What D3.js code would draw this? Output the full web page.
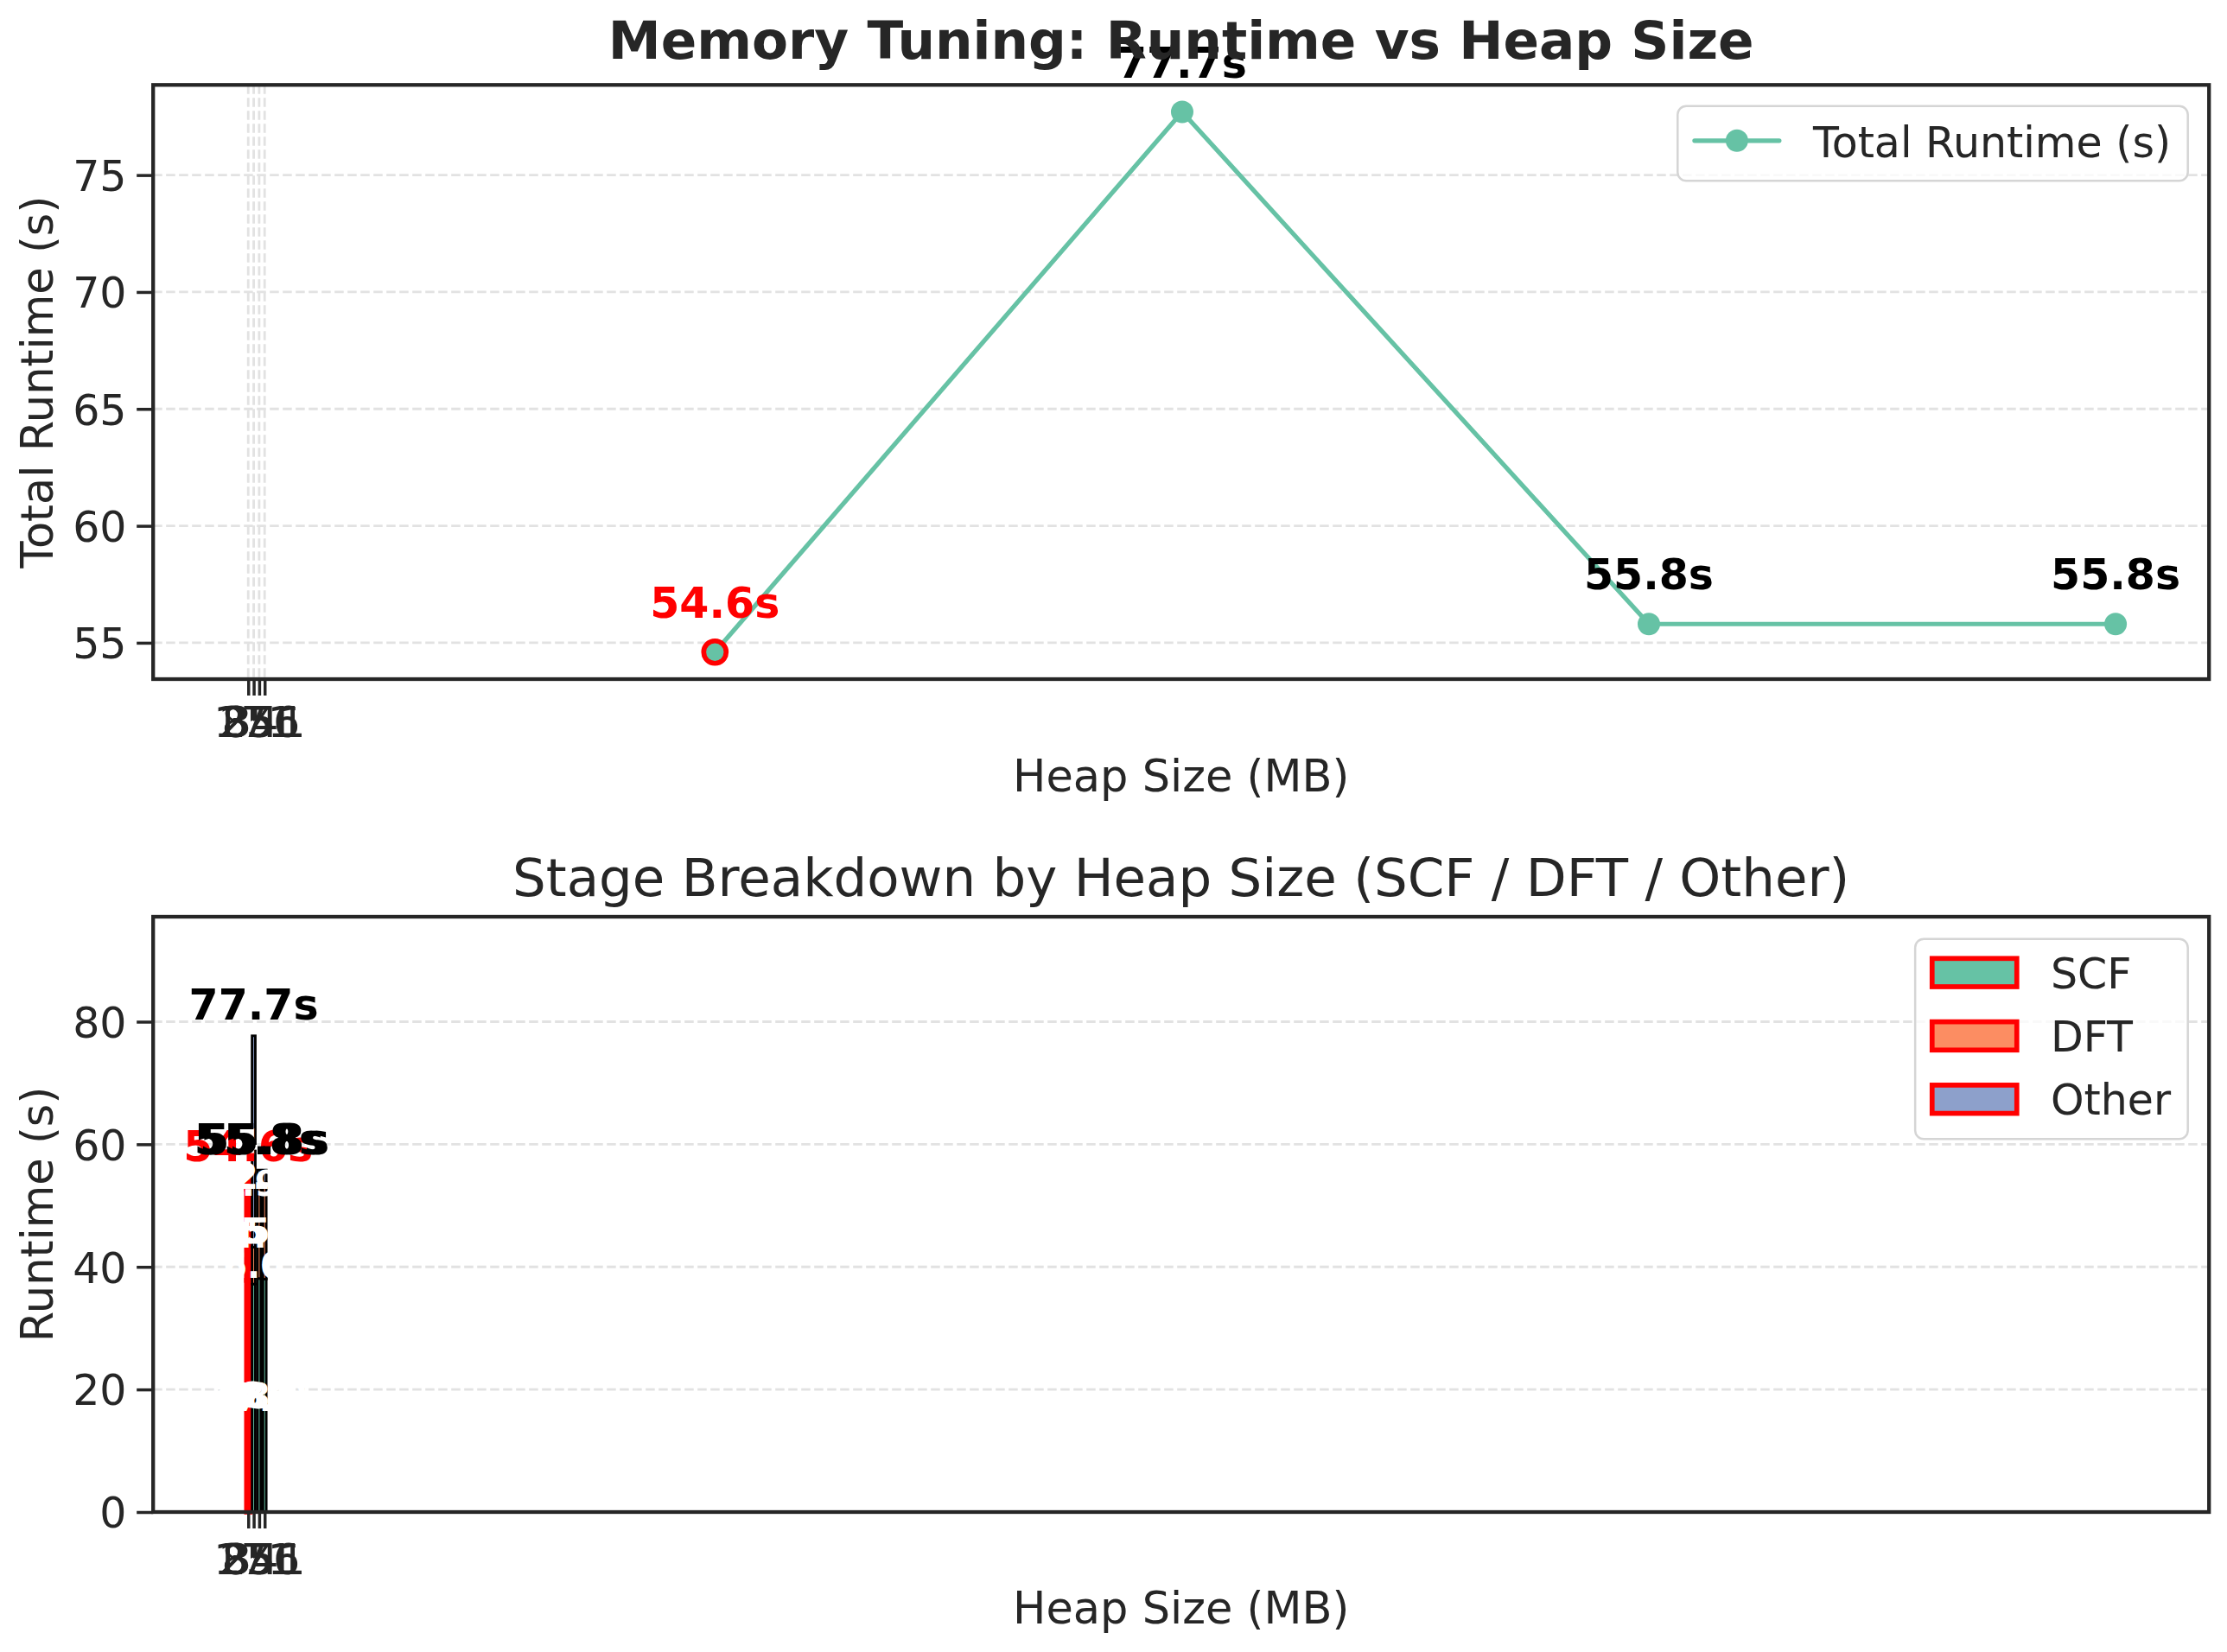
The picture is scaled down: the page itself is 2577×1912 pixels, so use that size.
<!DOCTYPE html>
<html><head><meta charset="utf-8">
<script src="https://cdn.jsdelivr.net/npm/d3@7"></script>
<style>
body{margin:0;background:#fff}
text{font-family:"DejaVu Sans",sans-serif}
</style>
</head><body>
<svg id="chart" width="2577" height="1912" xmlns="http://www.w3.org/2000/svg"></svg>
<script>
// ---------------- data ----------------
const heapLabels   = ["85", "171", "256", "341"];     // x tick labels (at bar slots)
const heapMB       = [85.3, 170.7, 256, 341.3];       // x of the runtime line
const barSlots     = [0, 1, 2, 3];                    // x of the stacked bars / ticks
const totalRuntime = [54.6, 77.7, 55.8, 55.8];
const scfTime      = [37.8, 37.2, 38.1, 38.0];
const dftTime      = [14.9, 6.0, 15.6, 15.7];
const otherTime    = [1.9, 34.5, 2.1, 2.1];
const stageNames   = ["SCF", "DFT", "Other"];
const topYTicks    = [55, 60, 65, 70, 75];
const botYTicks    = [0, 20, 40, 60, 80];

// ---------------- style ----------------
const C = {text:"#262626", grid:"#e2e2e2", line:"#66c2a5", stages:["#66c2a5","#fc8d62","#8da0cb"], best:"#ff0000"};
const F = {tick:49, label:51, title:61.2, subtitle:61, annot:49, seg:40, legend:49};
const L = 177.2, R = 2556.2;
const P1 = {top:98.3, bottom:786};
const P2 = {top:1061, bottom:1750};
const barW = 0.6;

const svg = d3.select("#chart");
const bestIdx = d3.minIndex(totalRuntime);

// shared x scale (matplotlib-like 5% margins over bars + line)
const xMin = d3.min(barSlots) - barW/2, xMax = d3.max(heapMB);
const xPad = 0.05*(xMax - xMin);
const x = d3.scaleLinear().domain([xMin - xPad, xMax + xPad]).range([L, R]);

// top y
const yMin = d3.min(totalRuntime), yMax = d3.max(totalRuntime), yPad = 0.05*(yMax-yMin);
const y1 = d3.scaleLinear().domain([yMin - yPad, yMax + yPad]).range([P1.bottom, P1.top]);
// bottom y
const y2 = d3.scaleLinear().domain([0, yMax*1.25]).range([P2.bottom, P2.top]);

function grid(g, yScale, yt, P, vertical){
  g.selectAll("line.hg").data(yt).join("line").attr("class","hg")
    .attr("x1",L).attr("x2",R).attr("y1",d=>yScale(d)).attr("y2",d=>yScale(d))
    .attr("stroke",C.grid).attr("stroke-width",2.8).attr("stroke-dasharray","10.5,4.5");
  if(vertical){
    g.selectAll("line.vg").data(barSlots).join("line").attr("class","vg")
      .attr("x1",d=>x(d)).attr("x2",d=>x(d)).attr("y1",P.top).attr("y2",P.bottom)
      .attr("stroke",C.grid).attr("stroke-width",2.8).attr("stroke-dasharray","10.5,4.5");
  }
}

function axes(g, yScale, yt, P, xLabelBase){
  const ya = d3.axisLeft(yScale).tickValues(yt).tickSize(19).tickPadding(11.7).tickFormat(d3.format("d"));
  const gy = g.append("g").attr("transform",`translate(${L},0)`).call(ya);
  gy.select(".domain").remove();
  gy.selectAll(".tick line").attr("stroke",C.text).attr("stroke-width",3.5);
  gy.selectAll(".tick text").attr("fill",C.text).attr("font-size",F.tick).attr("dy","0.364em")
    .attr("font-family","DejaVu Sans");
  const xa = d3.axisBottom(x).tickValues(barSlots).tickSize(19).tickPadding(xLabelBase - 19)
    .tickFormat((d,i)=>heapLabels[i]);
  const gx = g.append("g").attr("transform",`translate(0,${P.bottom})`).call(xa);
  gx.select(".domain").remove();
  gx.selectAll(".tick line").attr("stroke",C.text).attr("stroke-width",3.5);
  gx.selectAll(".tick text").attr("fill",C.text).attr("font-size",F.tick).attr("dy","0")
    .attr("font-family","DejaVu Sans");
  g.append("rect").attr("x",L).attr("y",P.top).attr("width",R-L).attr("height",P.bottom-P.top)
    .attr("fill","none").attr("stroke",C.text).attr("stroke-width",4.3);
}

// ================= TOP PANEL =================
const gTop = svg.append("g");
grid(gTop, y1, topYTicks, P1, true);

const pts = heapMB.map((h,i)=>({h, t:totalRuntime[i], i}));
gTop.append("path").datum(pts)
  .attr("d", d3.line().x(d=>x(d.h)).y(d=>y1(d.t)))
  .attr("fill","none").attr("stroke",C.line).attr("stroke-width",5.2).attr("stroke-linejoin","round");
gTop.selectAll("circle.pt").data(pts).join("circle").attr("class","pt")
  .attr("cx",d=>x(d.h)).attr("cy",d=>y1(d.t)).attr("r",13).attr("fill",C.line);
gTop.append("circle").datum(pts[bestIdx])
  .attr("cx",d=>x(d.h)).attr("cy",d=>y1(d.t)).attr("r",13)
  .attr("fill",C.line).attr("stroke",C.best).attr("stroke-width",5.7);
gTop.selectAll("text.ann").data(pts).join("text").attr("class","ann")
  .attr("x",d=>x(d.h)).attr("y",d=>y1(d.t)-40).attr("text-anchor","middle")
  .attr("font-size",F.annot).attr("font-weight","bold")
  .attr("fill",d=>d.i===bestIdx?C.best:"#000").text(d=>d.t.toFixed(1)+"s");

axes(gTop, y1, topYTicks, P1, 67.3);

gTop.append("text").attr("transform",`translate(61,${(P1.top+P1.bottom)/2}) rotate(-90)`)
  .attr("text-anchor","middle").attr("font-size",F.label).attr("fill",C.text).text("Total Runtime (s)");
gTop.append("text").attr("x",(L+R)/2).attr("y",915.5).attr("text-anchor","middle")
  .attr("font-size",F.label).attr("fill",C.text).text("Heap Size (MB)");

// top legend
(function(){
  const g = gTop.append("g");
  const pad = 0.4*F.legend, hl = 2*F.legend, tp = 0.8*F.legend;
  const t = g.append("text").attr("font-size",F.legend).attr("fill",C.text).text("Total Runtime (s)");
  const tw = t.node().getComputedTextLength();
  const w = pad*2 + hl + tp + tw, h = 86.5;
  const bx = R - 24.5 - w, by = P1.top + 24.5;
  g.insert("rect","text").attr("x",bx).attr("y",by).attr("width",w).attr("height",h).attr("rx",10)
    .attr("fill","#fff").attr("fill-opacity",0.8).attr("stroke","#d5d5d5").attr("stroke-width",2.5);
  const cy = by + 40;
  g.append("line").attr("x1",bx+pad).attr("x2",bx+pad+hl).attr("y1",cy).attr("y2",cy)
    .attr("stroke",C.line).attr("stroke-width",5.2).attr("stroke-linecap","round");
  g.append("circle").attr("cx",bx+pad+hl/2).attr("cy",cy).attr("r",13).attr("fill",C.line);
  t.attr("x",bx+pad+hl+tp).attr("y",by+59);
})();

gTop.append("text").attr("x",(L+R)/2).attr("y",68.3).attr("text-anchor","middle")
  .attr("font-size",F.title).attr("font-weight","bold").attr("fill",C.text)
  .text("Memory Tuning: Runtime vs Heap Size");

// ================= BOTTOM PANEL =================
const gBot = svg.append("g");
grid(gBot, y2, botYTicks, P2, false);

const stageVals = [scfTime, dftTime, otherTime];
const segs = [];
stageVals.forEach((vals, s)=>{
  vals.forEach((v,i)=>{
    const base = d3.sum(stageVals.slice(0,s), a=>a[i]);
    segs.push({s, i, base, v});
  });
});
gBot.selectAll("rect.seg").data(segs).join("rect").attr("class","seg")
  .attr("x",d=>x(barSlots[d.i]-barW/2)).attr("width",d=>x(barSlots[d.i]+barW/2)-x(barSlots[d.i]-barW/2))
  .attr("y",d=>y2(d.base+d.v)).attr("height",d=>y2(d.base)-y2(d.base+d.v))
  .attr("fill",d=>C.stages[d.s])
  .attr("stroke",d=>d.i===bestIdx?C.best:"#000")
  .attr("stroke-width",d=>d.i===bestIdx?5.7:2.85);
gBot.selectAll("text.seglab").data(segs).join("text").attr("class","seglab")
  .attr("x",d=>x(barSlots[d.i])).attr("y",d=>y2(d.base+d.v/2)).attr("dy","0.364em")
  .attr("text-anchor","middle").attr("font-size",F.seg).attr("font-weight","bold").attr("fill","#fff")
  .text(d=>d.v.toFixed(1));
gBot.selectAll("text.tot").data(totalRuntime).join("text").attr("class","tot")
  .attr("x",(d,i)=>x(barSlots[i])).attr("y",d=>y2(d)-18.5).attr("text-anchor","middle")
  .attr("font-size",F.annot).attr("font-weight","bold")
  .attr("fill",(d,i)=>i===bestIdx?C.best:"#000").text(d=>d.toFixed(1)+"s");

axes(gBot, y2, botYTicks, P2, 72.3);

gBot.append("text").attr("transform",`translate(61,${(P2.top+P2.bottom)/2}) rotate(-90)`)
  .attr("text-anchor","middle").attr("font-size",F.label).attr("fill",C.text).text("Runtime (s)");
gBot.append("text").attr("x",(L+R)/2).attr("y",1878.5).attr("text-anchor","middle")
  .attr("font-size",F.label).attr("fill",C.text).text("Heap Size (MB)");

// bottom legend
(function(){
  const g = gBot.append("g");
  const pad = 0.4*F.legend, hl = 2*F.legend, tp = 0.8*F.legend;
  const texts = g.selectAll("text").data(stageNames).join("text")
    .attr("font-size",F.legend).attr("fill",C.text).text(d=>d);
  const tw = d3.max(texts.nodes(), n=>n.getComputedTextLength());
  const w = pad*2 + hl + tp + tw, h = 231.6;
  const bx = R - 24.5 - w, by = P2.top + 25.7;
  g.insert("rect","text").attr("x",bx).attr("y",by).attr("width",w).attr("height",h).attr("rx",10)
    .attr("fill","#fff").attr("fill-opacity",0.8).attr("stroke","#d5d5d5").attr("stroke-width",2.5);
  const rowC = i => by + 39 + i*73.3;
  g.selectAll("rect.hp").data(stageNames).join("rect").attr("class","hp")
    .attr("x",bx+pad).attr("y",(d,i)=>rowC(i)-16.4).attr("width",hl).attr("height",32.7)
    .attr("fill",(d,i)=>C.stages[i]).attr("stroke",C.best).attr("stroke-width",5.7);
  texts.attr("x",bx+pad+hl+tp).attr("y",(d,i)=>rowC(i)+17.8);
})();

gBot.append("text").attr("x",(L+R)/2).attr("y",1036.5).attr("text-anchor","middle")
  .attr("font-size",F.subtitle).attr("fill",C.text)
  .text("Stage Breakdown by Heap Size (SCF / DFT / Other)");
</script>
</body></html>
